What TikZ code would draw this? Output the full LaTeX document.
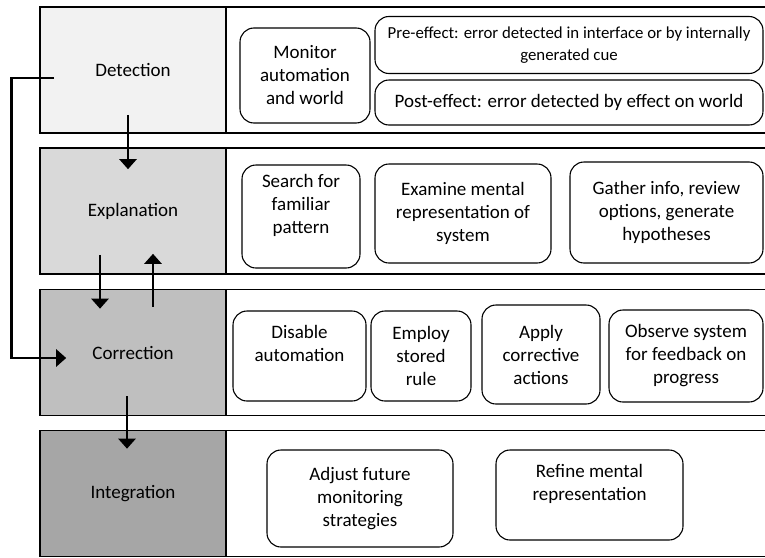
\documentclass[tikz,border=0pt]{standalone}
\usepackage{fontspec}
\setmainfont{Carlito}
\usetikzlibrary{arrows.meta}

\definecolor{detgray}{HTML}{F2F2F2}
\definecolor{expgray}{HTML}{D9D9D9}
\definecolor{corgray}{HTML}{BFBFBF}
\definecolor{intgray}{HTML}{A6A6A6}

\begin{document}
\begin{tikzpicture}[x=1pt,y=-1pt,
	phase/.style={draw, line width=1.6pt, minimum width=186pt, minimum height=126pt, font=\fontsize{19}{23}\selectfont},
	lane/.style={draw, line width=1.6pt, minimum width=540pt, minimum height=126pt, fill=white},
	act/.style={draw, rounded corners=14pt, line width=1.1pt, align=center, inner sep=0pt, font=\fontsize{19}{23}\selectfont},
	raised/.style={text depth=26pt},
	flow/.style={line width=2.8pt, -{Triangle[length=10pt,width=17pt]}}]
	\useasboundingbox (0,0) rectangle (765,557);
	\path (133,70) node (det) [phase, fill=detgray] {Detection}
		  (496,70) node (detlane) [lane] {}
		  (133,211) node (exp) [phase, fill=expgray] {Explanation}
		  (496,211) node (explane) [lane] {}
		  (133,352.5) node (cor) [phase, fill=corgray] {Correction}
		  (496,352.5) node (corlane) [lane] {}
		  (133,493.5) node (int) [phase, fill=intgray] {Integration}
		  (496,493.5) node (intlane) [lane] {};
	\path (305,75.5) node (mon) [act, minimum width=130pt, minimum height=95pt] {Monitor\\automation\\and world}
		  (569,45) node (pre) [act, minimum width=388pt, minimum height=57pt, font=\fontsize{16.8}{21.5}\selectfont] {Pre-effect: error detected in interface or by internally\\generated cue}
		  (569,102.5) node (post) [act, minimum width=388pt, minimum height=45pt] {Post-effect: error detected by effect on world};
	\path (301,216.5) node (search) [act, raised, minimum width=118pt, minimum height=103pt] {Search for\\familiar\\pattern}
		  (463,213.5) node (exam) [act, minimum width=176pt, minimum height=99pt] {Examine mental\\representation of\\system}
		  (666.5,212.5) node (gath) [act, minimum width=193pt, minimum height=101pt] {Gather info, review\\options, generate\\hypotheses};
	\path (299.5,356) node (dis) [act, raised, minimum width=133pt, minimum height=90pt] {Disable\\automation}
		  (421,356) node (emp) [act, minimum width=100pt, minimum height=90pt] {Employ\\stored\\rule}
		  (541,354.5) node (app) [act, minimum width=118pt, minimum height=99pt] {Apply\\corrective\\actions}
		  (686,356) node (obs) [act, minimum width=154pt, minimum height=92pt] {Observe system\\for feedback on\\progress};
	\path (360,498.5) node (adj) [act, minimum width=186pt, minimum height=97pt] {Adjust future\\monitoring\\strategies}
		  (589.5,495) node (ref) [act, raised, minimum width=187pt, minimum height=90pt] {Refine mental\\representation};
	\draw[flow] ([shift={(-5,-19)}]det.south) -- ([shift={(-5,22)}]exp.north);
	\draw[flow] ([shift={(-33,-20)}]exp.south) -- ([shift={(-33,20)}]cor.north);
	\draw[flow] ([shift={(20,18)}]cor.north) -- ([shift={(20,-21)}]exp.south);
	\draw[flow] ([shift={(-6,-20)}]cor.south) -- ([shift={(-6,19)}]int.north);
	\draw[flow] ([shift={(15,8)}]det.west) -- ++(-43,0) |- ([shift={(27,5.5)}]cor.west);
\end{tikzpicture}
\end{document}
